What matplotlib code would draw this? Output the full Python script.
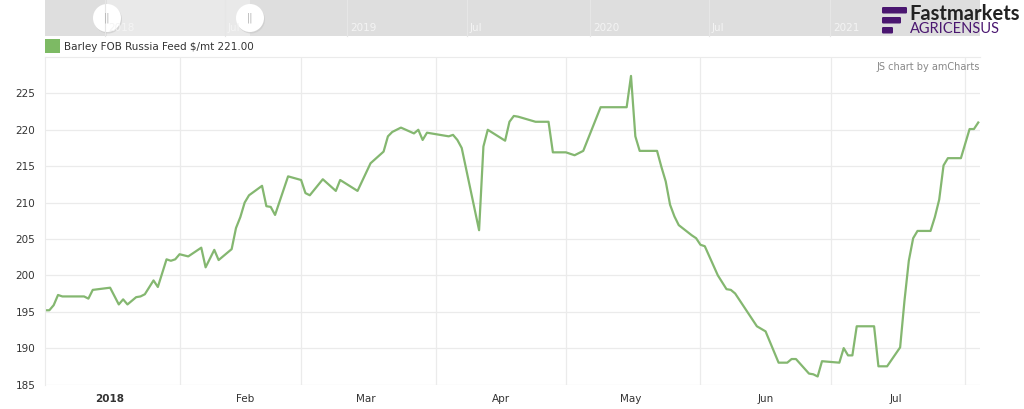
import datetime as dt
import matplotlib
matplotlib.use("Agg")
import matplotlib.pyplot as plt
from matplotlib.patches import Rectangle, Circle, FancyBboxPatch

# Barley FOB Russia Feed, $/mt
dates = [
    "2018-01-01", "2018-01-02", "2018-01-03", "2018-01-04", "2018-01-05",
    "2018-01-10", "2018-01-11", "2018-01-12", "2018-01-16", "2018-01-18",
    "2018-01-19", "2018-01-20", "2018-01-22", "2018-01-23", "2018-01-24",
    "2018-01-26", "2018-01-27", "2018-01-29", "2018-01-30", "2018-01-31",
    "2018-02-01", "2018-02-03", "2018-02-06", "2018-02-07", "2018-02-09",
    "2018-02-10", "2018-02-13", "2018-02-14", "2018-02-15", "2018-02-16",
    "2018-02-17", "2018-02-20", "2018-02-21", "2018-02-22", "2018-02-23",
    "2018-02-26", "2018-03-01", "2018-03-02", "2018-03-03", "2018-03-06",
    "2018-03-09", "2018-03-10", "2018-03-14", "2018-03-17", "2018-03-20",
    "2018-03-21", "2018-03-22", "2018-03-24", "2018-03-27", "2018-03-28",
    "2018-03-29", "2018-03-30", "2018-04-02", "2018-04-04", "2018-04-05",
    "2018-04-06", "2018-04-07", "2018-04-11", "2018-04-12", "2018-04-13",
    "2018-04-17", "2018-04-18", "2018-04-19", "2018-04-20", "2018-04-24",
    "2018-04-27", "2018-04-28", "2018-05-01", "2018-05-03", "2018-05-05",
    "2018-05-09", "2018-05-15", "2018-05-16", "2018-05-17", "2018-05-18",
    "2018-05-22", "2018-05-23", "2018-05-24", "2018-05-25", "2018-05-26",
    "2018-05-27", "2018-05-30", "2018-05-31", "2018-06-01", "2018-06-02",
    "2018-06-05", "2018-06-07", "2018-06-08", "2018-06-09", "2018-06-14",
    "2018-06-16", "2018-06-19", "2018-06-21", "2018-06-22", "2018-06-23",
    "2018-06-26", "2018-06-27", "2018-06-28", "2018-06-29", "2018-07-03",
    "2018-07-04", "2018-07-05", "2018-07-06", "2018-07-07", "2018-07-11",
    "2018-07-12", "2018-07-14", "2018-07-17", "2018-07-18", "2018-07-19",
    "2018-07-20", "2018-07-21", "2018-07-24", "2018-07-25", "2018-07-26",
    "2018-07-27", "2018-07-28", "2018-07-31", "2018-08-02", "2018-08-03",
    "2018-08-04",
]
prices = [
    195.2, 195.2, 195.9, 197.3, 197.1,
    197.1, 196.8, 198.0, 198.3, 196.0,
    196.7, 196.0, 197.0, 197.1, 197.4,
    199.3, 198.4, 202.2, 202.0, 202.2,
    202.9, 202.6, 203.8, 201.1, 203.5,
    202.1, 203.6, 206.5, 208.0, 210.0,
    211.0, 212.3, 209.5, 209.4, 208.3,
    213.6, 213.1, 211.3, 211.0, 213.2,
    211.6, 213.1, 211.6, 215.4, 217.0,
    219.1, 219.7, 220.3, 219.5, 220.0,
    218.6, 219.6, 219.3, 219.1, 219.3,
    218.6, 217.5, 206.2, 217.7, 220.0,
    218.5, 221.1, 221.9, 221.8, 221.1,
    221.1, 216.9, 216.9, 216.5, 217.1,
    223.1, 223.1, 227.4, 219.1, 217.1,
    217.1, 214.9, 212.9, 209.7, 208.1,
    206.9, 205.5, 205.1, 204.2, 204.0,
    200.0, 198.1, 198.0, 197.5, 193.0,
    192.3, 188.0, 188.0, 188.5, 188.5,
    186.5, 186.4, 186.1, 188.2, 188.0,
    190.0, 189.0, 189.0, 193.0, 193.0,
    187.5, 187.5, 190.1, 196.5, 202.0,
    205.1, 206.1, 206.1, 208.0, 210.4,
    215.1, 216.1, 216.1, 220.1, 220.1,
    221.0,
]
series_name = "Barley FOB Russia Feed $/mt"
last_value = 221.00

month_labels = ["2018", "Feb", "Mar", "Apr", "May", "Jun", "Jul"]
y_ticks = [185, 190, 195, 200, 205, 210, 215, 220, 225]
scroll_labels = ["2018", "Jul", "2019", "Jul", "2020", "Jul", "2021"]

line_color = "#84b770"
grid_color = "#ebebeb"
text_color = "#333333"

x = [dt.datetime.strptime(d, "%Y-%m-%d") for d in dates]

fig = plt.figure(figsize=(10.24, 4.09), dpi=100)
W, H = 1024, 409

# main plot area
ax = fig.add_axes([45 / W, 1 - 384.5 / H, (980 - 45) / W, (384.5 - 57) / H])
ax.plot(x, prices, color=line_color, lw=1.6, solid_joinstyle="round")

ax.set_ylim(185, 230)
ax.set_yticks(y_ticks)
ax.set_yticklabels([str(v) for v in y_ticks], fontsize=7.5, color=text_color)
ax.set_xlim(dt.datetime(2018, 1, 1), dt.datetime(2018, 1, 1) + dt.timedelta(days=215.4))

# gridlines on month starts, labels centred in each month
month_starts = [dt.datetime(2018, m, 1) for m in range(2, 9)]
ax.set_xticks(month_starts)
ax.set_xticklabels([])
mids = [dt.datetime(2018, m, 16) for m in range(1, 8)]
ax.set_xticks(mids, minor=True)
ax.set_xticklabels(month_labels, minor=True, fontsize=7.5, color=text_color)
ax.get_xticklabels(minor=True)[0].set_fontweight("bold")
ax.tick_params(axis="both", which="both", length=0)
ax.tick_params(axis="x", which="minor", pad=7)
ax.tick_params(axis="y", pad=7)

ax.grid(True, which="major", color=grid_color, lw=0.9)
for s in ["right", "bottom"]:
    ax.spines[s].set_visible(False)
ax.spines["left"].set_color(grid_color)
ax.spines["top"].set_color(grid_color)
ax.set_axisbelow(True)

ax.text(1.0, 0.985, "JS chart by amCharts", transform=ax.transAxes, ha="right",
        va="top", fontsize=7, color="#888888")

# overlay in pixel coordinates for scrollbar, legend and logo
ov = fig.add_axes([0, 0, 1, 1], zorder=5)
ov.set_xlim(0, W)
ov.set_ylim(H, 0)
ov.axis("off")

ov.add_patch(Rectangle((45, 0), 935, 36, color="#dedede", lw=0))
ov.add_patch(Rectangle((107, 0), 143, 36, color="#e9e9e9", lw=0))
scroll_x = [105, 225, 347, 467, 590, 709, 830]
for sx, lab in zip(scroll_x, scroll_labels):
    ov.plot([sx, sx], [0, 36], color="#e6e6e6", lw=0.8)
    ov.text(sx + 3, 28, lab, fontsize=7.5, color="#f4f4f4", va="center", ha="left")
for gx in [107, 250]:
    ov.add_patch(Circle((gx + 1, 19.5), 14, color="#c8c8c8", alpha=0.6, lw=0))
    ov.add_patch(Circle((gx, 18), 14, color="white", lw=0))
    ov.text(gx, 18, "||", fontsize=7, color="#b0b0b0", ha="center", va="center")

# legend
ov.add_patch(Rectangle((45, 39), 15, 14, color="#7dba64", lw=0))
ov.text(64, 46.5, series_name.replace("$", r"\$") + " " + f"{last_value:.2f}",
        fontsize=7.5, color=text_color, va="center", ha="left")

# logo
purple = "#4a1670"
for bx, by, bw in [(882, 7, 25), (882, 17, 19), (882, 27, 11)]:
    ov.add_patch(FancyBboxPatch((bx, by), bw, 6.5, boxstyle="round,pad=0,rounding_size=1.2",
                                color=purple, lw=0))
ov.text(909, 14, "Fastmarkets", family="Lato", fontweight="bold", fontsize=14.5,
        color="#222222", va="center", ha="left")
ov.text(910, 29, "AGRICENSUS", family="Lato", fontweight="normal", fontsize=10.5,
        color=purple, va="center", ha="left")

fig.savefig("out.png", dpi=100)
